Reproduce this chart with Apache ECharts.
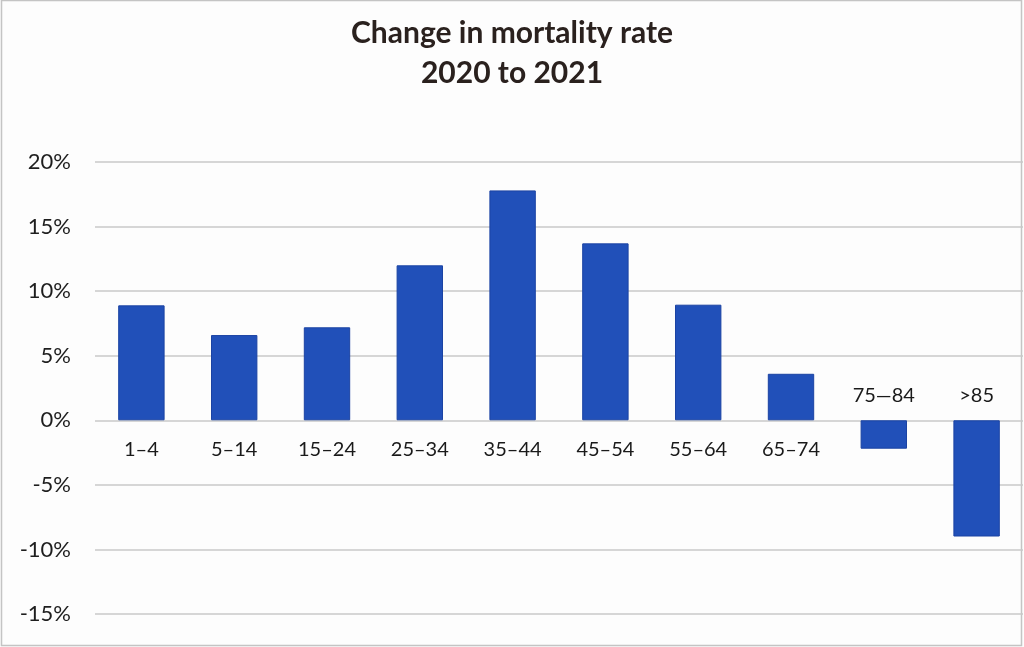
<!DOCTYPE html>
<html>
<head>
<meta charset="utf-8">
<script src="https://cdn.jsdelivr.net/npm/echarts@6/dist/echarts.min.js"></script>
<style>
  html, body { margin: 0; padding: 0; background: #fdfdfd; }
  #chart { width: 1024px; height: 647px; }
</style>
</head>
<body>
<div id="chart"></div>
<script>
// age groups and % change in mortality, 2020 -> 2021
const ageGroups = ['1\u20134', '5\u201314', '15\u201324', '25\u201334', '35\u201344', '45\u201354', '55\u201364', '65\u201374', '75\u201484', '>85'];
const changePct = [8.9, 6.6, 7.2, 12.0, 17.8, 13.7, 8.95, 3.6, -2.2, -9.0];
const yTicks = [-15, -10, -5, 0, 5, 10, 15, 20];

const FONT = 'Lato, "Open Sans", sans-serif';

const chart = echarts.init(document.getElementById('chart'));

chart.setOption({
  backgroundColor: '#fdfdfd',
  animation: false,
  title: {
    text: 'Change in mortality rate\n2020 to 2021',
    left: 'center',
    top: 8,
    textStyle: { fontFamily: FONT, fontSize: 30, fontWeight: 'bold', color: '#2a211e', lineHeight: 40 }
  },
  grid: { left: 95, right: 1, top: 162, bottom: 33, containLabel: false },
  xAxis: {
    type: 'category',
    data: ageGroups,
    axisLine: { show: false },
    axisTick: { show: false },
    axisLabel: { show: false }
  },
  yAxis: {
    type: 'value',
    min: yTicks[0],
    max: yTicks[yTicks.length - 1],
    interval: 5,
    axisLine: { show: false },
    axisTick: { show: false },
    axisLabel: {
      formatter: v => v + '%',
      fontFamily: FONT, fontSize: 22, color: '#1e1e1e', margin: 24
    },
    splitLine: { lineStyle: { color: '#c8c8c8', width: 1.5 } }
  },
  series: [{
    type: 'bar',
    barWidth: '50%',
    data: changePct.map((v, i) => ({
      value: v,
      label: {
        show: true,
        formatter: ageGroups[i],
        position: v >= 0 ? 'bottom' : 'top',
        distance: v >= 0 ? 19 : 15
      }
    })),
    itemStyle: { color: '#2150b9', borderColor: '#1b43a3', borderWidth: 1 },
    label: { fontFamily: FONT, fontSize: 20, color: '#1a1a1a' }
  }],
  graphic: [{
    type: 'rect',
    shape: { x: 1.5, y: 0.5, width: 1020, height: 645 },
    style: { fill: null, stroke: '#c4c4c4', lineWidth: 1.5 },
    silent: true
  }]
});
</script>
</body>
</html>
